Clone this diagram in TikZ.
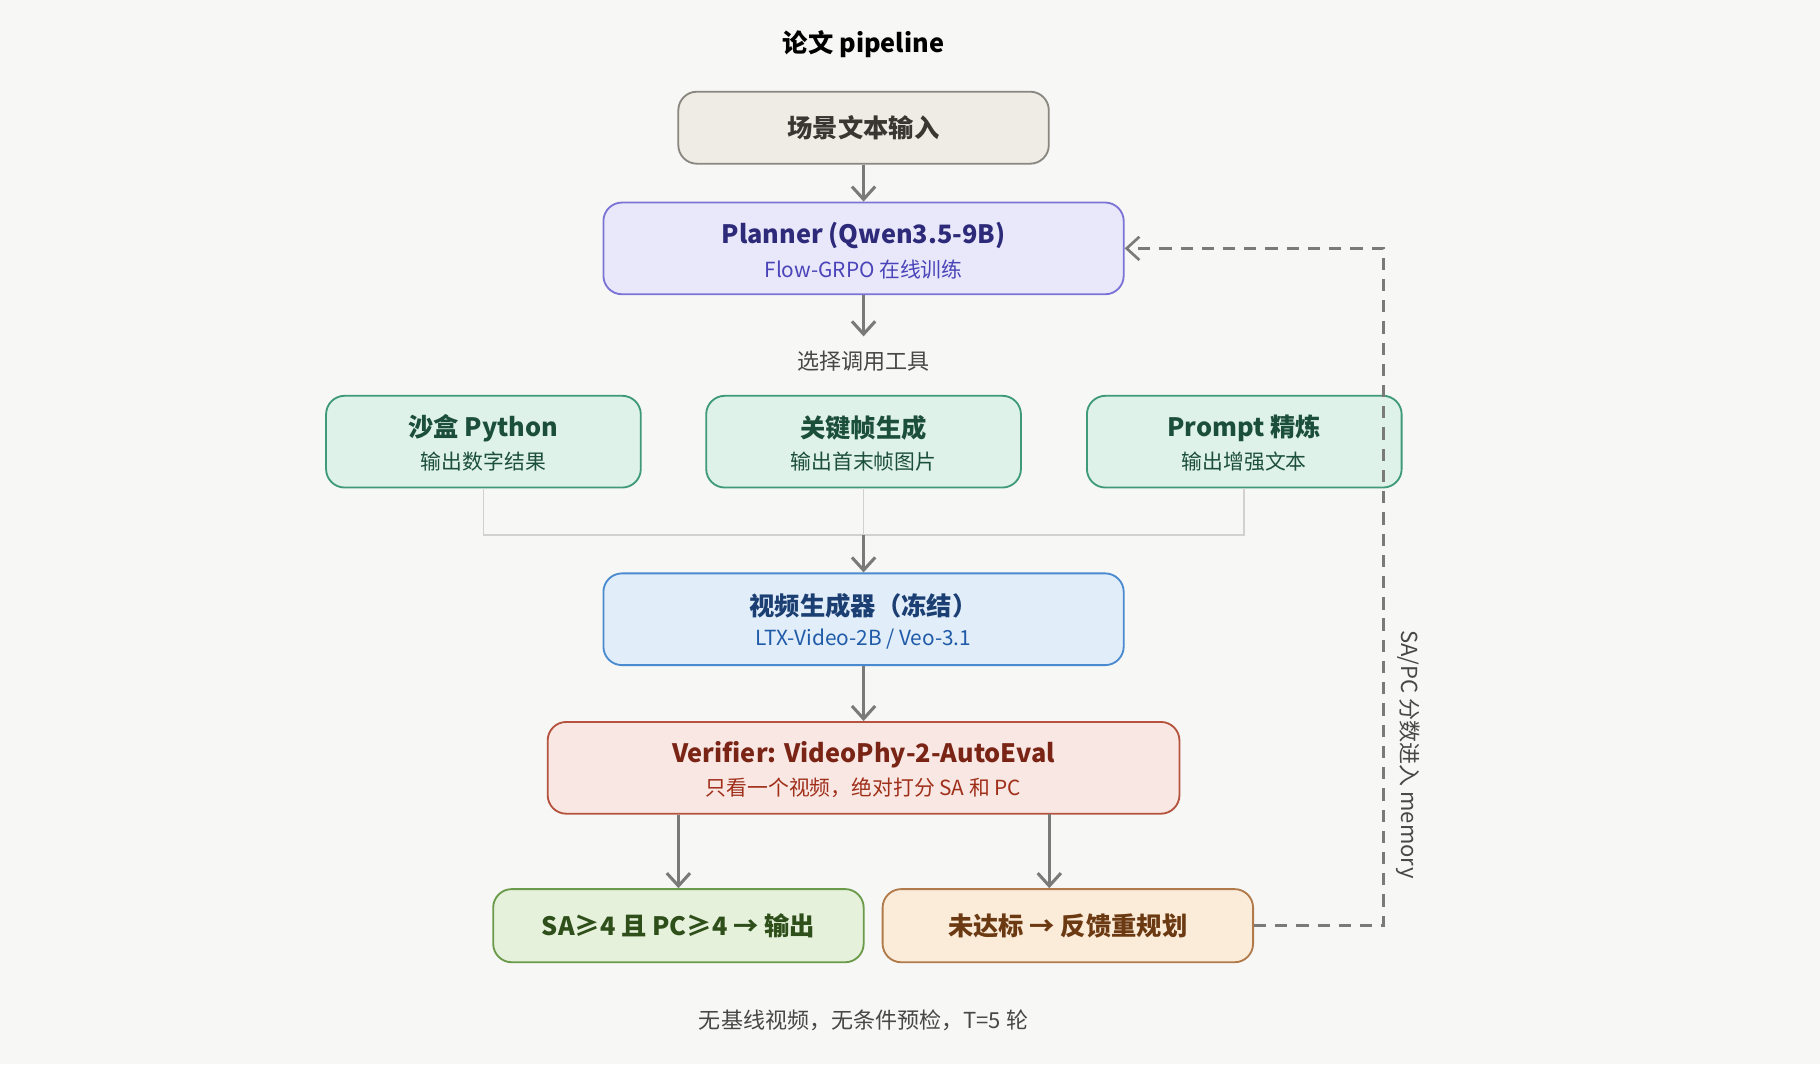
\documentclass[tikz,border=0pt]{standalone}
\usepackage{fontspec}
\setmainfont{Noto Sans CJK SC}
\usetikzlibrary{arrows.meta}
\definecolor{bgc}{HTML}{F7F7F5}
\definecolor{arrc}{HTML}{7A7A78}
\definecolor{inf}{HTML}{EFECE6}\definecolor{ind}{HTML}{8A8680}\definecolor{intx}{HTML}{3A3632}
\definecolor{plf}{HTML}{E9E8FB}\definecolor{pld}{HTML}{7B74D6}
\definecolor{plt}{HTML}{2E2A7A}\definecolor{pls}{HTML}{4A44B8}
\definecolor{tf}{HTML}{DFF2EA}\definecolor{td}{HTML}{3E9A78}\definecolor{tt}{HTML}{1C4F3A}
\definecolor{vf}{HTML}{E1EDF9}\definecolor{vd}{HTML}{4A8AD0}
\definecolor{vt}{HTML}{1B3F73}\definecolor{vs}{HTML}{1F5BA8}
\definecolor{ef}{HTML}{F8E7E3}\definecolor{ed}{HTML}{B5533F}
\definecolor{et}{HTML}{7A2416}\definecolor{es}{HTML}{A02F1A}
\definecolor{of}{HTML}{E6F1DC}\definecolor{od}{HTML}{6A9A4A}\definecolor{ot}{HTML}{2E4F1A}
\definecolor{rf}{HTML}{FBEBD9}\definecolor{rd}{HTML}{B07A4A}\definecolor{rt}{HTML}{6B3A12}
\tikzset{%
  >={Straight Barb[length=1.1mm,width=2mm]}, % default arrow style
  box/.style={draw, rounded corners=1.6mm, line width=.45pt, inner sep=0pt},
  flow/.style={->, arrc, line width=.75pt},
  head/.style={font=\fontsize{6.2}{7}\selectfont\bfseries},
  sub/.style={font=\fontsize{5.1}{6}\selectfont},
  note/.style={text=black!72, font=\fontsize{5.4}{6}\selectfont},
}
\begin{document}
\begin{tikzpicture}[x=0.01cm, y=-0.01cm]
  % background
  \fill[bgc] (0,0) rectangle (1568,917);
  \useasboundingbox (0,0) rectangle (1568,917);
  % title
  \node[head, text=black] (title) at (744,38) {论文 pipeline};
  % input and planner
  \node[box, fill=inf, draw=ind, minimum width=3.19cm, minimum height=0.62cm,
        head, text=intx] (input) at (744,110) {场景文本输入};
  \node[box, fill=plf, draw=pld, minimum width=4.48cm, minimum height=0.79cm] (planner) at (744,214) {};
  \node[head, text=plt] at (744,203) {Planner (Qwen3.5-9B)};
  \node[sub, text=pls] at (744,232) {Flow-GRPO 在线训练};
  \node[note] (pick) at (744,311) {选择调用工具};
  % tools
  \foreach \nm/\x/\hd/\sb in {py/416.5/沙盒 Python/输出数字结果,
                              key/744/关键帧生成/输出首末帧图片,
                              pr/1072/Prompt 精炼/输出增强文本}{
    \node[box, fill=tf, draw=td, minimum width=2.71cm, minimum height=0.79cm] (\nm) at (\x,380.5) {};
    \node[head, text=tt] at (\x,369) {\hd};
    \node[sub, text=tt] at (\x,398) {\sb};
  }
  % video generator
  \node[box, fill=vf, draw=vd, minimum width=4.48cm, minimum height=0.79cm] (video) at (744,533.5) {};
  \node[head, text=vt] at (744,522) {视频生成器（冻结）};
  \node[sub, text=vs] at (744,551) {LTX-Video-2B / Veo-3.1};
  % verifier
  \node[box, fill=ef, draw=ed, minimum width=5.44cm, minimum height=0.79cm] (verifier) at (744,661.5) {};
  \node[head, text=et] at (744,650) {Verifier: VideoPhy-2-AutoEval};
  \node[sub, text=es] at (744,679) {只看一个视频，绝对打分 SA 和 PC};
  % outcomes
  \node[box, fill=of, draw=od, minimum width=3.19cm, minimum height=0.63cm,
        head, text=ot] (pass) at (584.5,797.5) {SA≥4 且 PC≥4 → 输出};
  \node[box, fill=rf, draw=rd, minimum width=3.19cm, minimum height=0.63cm,
        head, text=rt] (replan) at (920,797.5) {未达标 → 反馈重规划};
  % note
  \node[note] (foot) at (744,879) {无基线视频，无条件预检，T=5 轮};
  % flow
  \draw[flow] (input) -- (planner);
  \draw[flow] (planner) -- (pick.north);
  \coordinate (merge) at (744,461);
  \draw[black!18, line width=.45pt] (py.south) |- (merge) -| (pr.south);
  \draw[black!18, line width=.45pt] (key) -- (merge);
  \draw[flow] (merge) -- (video);
  \draw[flow] (video) -- (verifier);
  \coordinate (vfy2) at (904,701);
  \draw[flow] (verifier.south -| pass) -- (pass);
  \draw[flow] (vfy2) -- (vfy2 |- replan.north);
  % memory feedback
  \coordinate (corner) at (1192,797.5);
  \draw[flow, line width=.65pt, dash pattern=on 3pt off 2.2pt] (replan) -- (corner) |- (planner.east);
  \node[note, rotate=-90] (mem) at (1213,650) {SA/PC 分数进入 memory};
\end{tikzpicture}
\end{document}
